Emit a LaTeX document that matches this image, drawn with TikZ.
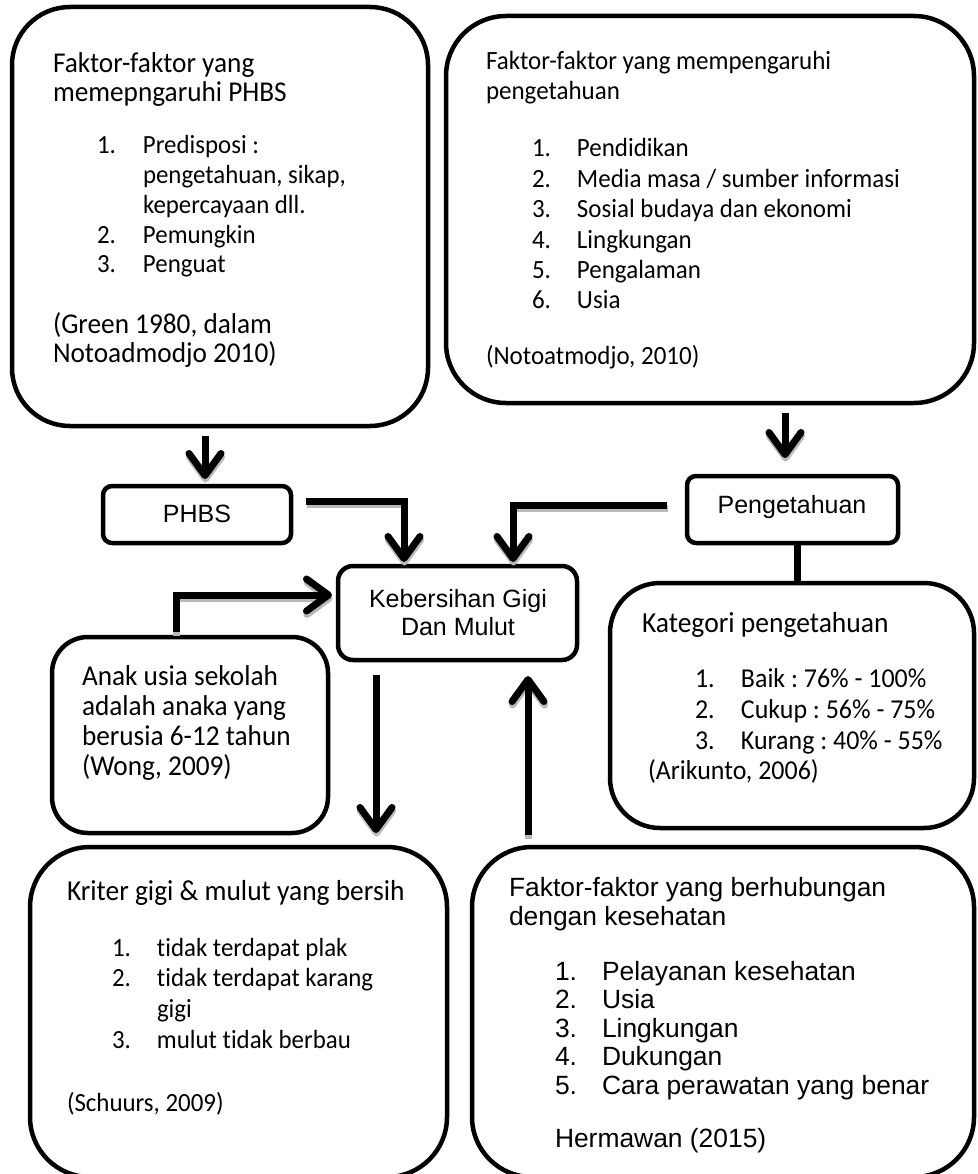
\documentclass[tikz,border=0pt]{standalone}
\usepackage{fontspec}
\setmainfont{Carlito}[FakeStretch=0.95,Ligatures=NoCommon]
\newfontfamily\arialf{Liberation Sans}
\usetikzlibrary{arrows.meta,calc}
\frenchspacing
\newcommand\ftext[3]{{\fontsize{#1}{#2}\selectfont\begin{tabular}[t]{@{}l@{}}#3\end{tabular}}}
\newcommand\nm[2]{\makebox[#1][l]{#2}}
\begin{document}
\begin{tikzpicture}[x=1pt,y=-1pt,
  bx/.style={draw, line width=4.5pt, inner sep=0pt, outer sep=0pt},
  txt/.style={inner sep=0pt, outer sep=0pt, anchor=base west, font=\frenchspacing},
  conn/.style={line width=7pt, -{Straight Barb[length=22pt,width=32pt,round]},
    preaction={draw=gray!55, line width=7pt, transform canvas={shift={(0.5pt,-3.5pt)}}}},
  plain/.style={line width=7pt}]
\fill[white] (0,0) rectangle (977,1174);
\useasboundingbox (0,0) rectangle (977,1174);

% boxes
\node[bx, minimum width=416pt, minimum height=419pt, rounded corners=58pt] (b1) at (220,216.5) {};
\node[bx, minimum width=528pt, minimum height=387pt, rounded corners=60pt] (b2) at (710,209.5) {};
\node[bx, minimum width=188pt, minimum height=57pt, rounded corners=9pt] (phbs) at (197,514.5) {};
\node[bx, minimum width=211pt, minimum height=67pt, rounded corners=9pt] (peng) at (792.5,509.5) {};
\node[bx, minimum width=239pt, minimum height=94pt, rounded corners=15pt] (keb) at (457.5,613) {};
\node[bx, minimum width=276pt, minimum height=196pt, rounded corners=36pt] (anak) at (190,735) {};
\node[bx, minimum width=364pt, minimum height=245pt, rounded corners=50pt] (kat) at (792,705.5) {};
\node[bx, minimum width=417pt, minimum height=330pt, rounded corners=60pt] (krit) at (238.5,1012) {};
\node[bx, minimum width=502pt, minimum height=330pt, rounded corners=60pt] (fak) at (723,1012) {};

% connectors
\draw[conn] ($(b1.south)+(-15,10)$) -- ($(phbs.north)+(8,-7)$);
\draw[conn] ($(b2.south)+(75,10)$) -- ($(peng.north)+(-7.5,-18)$);
\draw[conn] ($(phbs.east)+(15,-13.5)$) -| ($(keb.north)+(-53.5,-4)$);
\draw[conn] ($(peng.west)+(-20,-4.5)$) -| ($(keb.north)+(55.5,-4)$);
\draw[conn] ($(anak.north)+(-14,-5)$) |- ($(keb.west)+(-6,-18)$);
\draw[plain] ($(peng.south)+(4.5,0)$) -- ($(kat.north)+(5,0)$);
\draw[conn] ($(keb.south)+(-81.5,15)$) -- ($(krit.north)+(137.5,-14)$);
\draw[conn] ($(fak.north)+(-195,-12)$) -- ($(keb.south)+(70.5,16)$);

% box 1
\node[txt] (t1a) at (53,73) {\ftext{28.7}{27}{Faktor-faktor yang\\memepngaruhi PHBS}};
\node[txt] (t1b) at (97,154) {\ftext{26.2}{29.75}{\nm{46pt}{1.}Predisposi :\\\hspace*{46pt}pengetahuan, sikap,\\\hspace*{46pt}kepercayaan dll.\\\nm{46pt}{2.}Pemungkin\\\nm{46pt}{3.}Penguat}};
\node[txt] (t1c) at (53,333) {\ftext{28.7}{29}{(Green 1980, dalam\\Notoadmodjo 2010)}};

% box 2
\node[txt] (t2a) at (486,70) {\ftext{26.3}{30}{Faktor-faktor yang mempengaruhi\\pengetahuan}};
\node[txt] (t2b) at (532,157) {\ftext{26.3}{30.4}{\nm{45pt}{1.}Pendidikan\\\nm{45pt}{2.}Media masa / sumber informasi\\\nm{45pt}{3.}Sosial budaya dan ekonomi\\\nm{45pt}{4.}Lingkungan\\\nm{45pt}{5.}Pengalaman\\\nm{45pt}{6.}Usia}};
\node[txt] (t2c) at (486,364) {\ftext{26.3}{30}{(Notoatmodjo, 2010)}};

% small boxes
\node[inner sep=0pt, anchor=base] (tp) at (197,522) {\arialf\fontsize{25}{28}\selectfont PHBS};
\node[inner sep=0pt, anchor=base] (tpg) at (792,513) {\arialf\fontsize{25}{28}\selectfont Pengetahuan};
\node[inner sep=0pt, anchor=base] (tk) at (458,607) {\arialf\fontsize{25}{28}\selectfont\begin{tabular}[t]{@{}c@{}}Kebersihan Gigi\\Dan Mulut\end{tabular}};

% kategori
\node[txt] (tk1) at (642,632) {\ftext{29}{30}{Kategori pengetahuan}};
\node[txt] (tk2) at (695,687) {\ftext{27.3}{31}{\nm{46pt}{1.}Baik : 76\% - 100\%\\\nm{46pt}{2.}Cukup : 56\% - 75\%\\\nm{46pt}{3.}Kurang : 40\% - 55\%}};
\node[txt] (tk3) at (648,779) {\ftext{27.3}{30}{(Arikunto, 2006)}};

% anak
\node[txt] (ta) at (82,685) {\ftext{28.7}{30}{Anak usia sekolah\\adalah anaka yang\\berusia 6-12 tahun\\(Wong, 2009)}};

% kriteria
\node[txt] (tr1) at (67,900) {\ftext{28.9}{30}{Kriter gigi \& mulut yang bersih}};
\node[txt] (tr2) at (112,956) {\ftext{26.2}{30.7}{\nm{45pt}{1.}tidak terdapat plak\\\nm{45pt}{2.}tidak terdapat karang\\\hspace*{45pt}gigi\\\nm{45pt}{3.}mulut tidak berbau}};
\node[txt] (tr3) at (67,1111) {\ftext{26.2}{30}{(Schuurs, 2009)}};

% faktor kesehatan
\node[txt] (tf1) at (509,896) {\arialf\ftext{26.4}{29}{Faktor-faktor yang berhubungan\\dengan kesehatan}};
\node[txt] (tf2) at (555,980) {\arialf\ftext{26.4}{28.6}{\nm{47pt}{1.}Pelayanan kesehatan\\\nm{47pt}{2.}Usia\\\nm{47pt}{3.}Lingkungan\\\nm{47pt}{4.}Dukungan\\\nm{47pt}{5.}Cara perawatan yang benar}};
\node[txt] (tf3) at (555,1147) {\arialf\ftext{26.4}{29}{Hermawan (2015)}};
\end{tikzpicture}
\end{document}
